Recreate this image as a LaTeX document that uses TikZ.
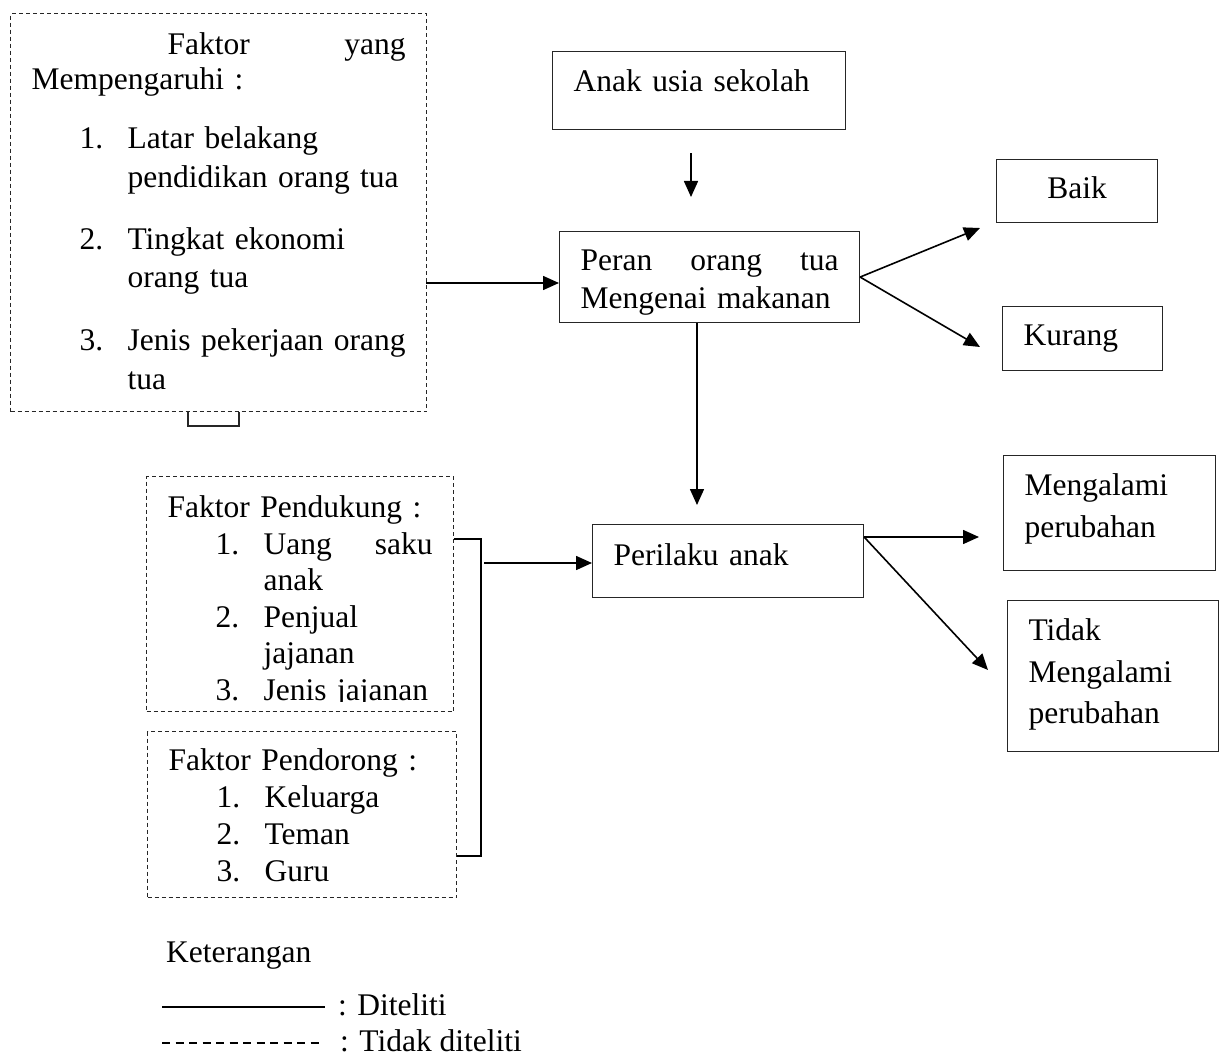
\documentclass[tikz,border=0pt]{standalone}
\usepackage{fontspec}
\setmainfont{Liberation Serif}
\usetikzlibrary{arrows.meta}
\newcommand{\itemno}[1]{\hspace*{48pt}\makebox[48pt][l]{#1}}
\newcommand{\itemcont}{\hspace*{96pt}}

\begin{document}
\begin{tikzpicture}[x=1pt, y=-1pt, >={Triangle[length=16pt, width=14pt]},
  font=\fontsize{31.5}{38}\selectfont,
  box/.style={draw=black!85, line width=1.1pt, anchor=north west, inner xsep=21pt, inner ysep=0pt, align=left},
  dbox/.style={box, dash pattern=on 4pt off 3pt},
  arr/.style={->, line width=1.6pt},
  lbl/.style={anchor=base west, inner sep=0pt}]
  \useasboundingbox (0,0) rectangle (1224,1054);

  % Faktor yang mempengaruhi
  \node[dbox, text width=374pt, text height=41pt, text depth=357pt,
        font=\fontsize{31.5}{38.5}\selectfont] (faktor) at (10,13) {%
    \hspace*{136pt}Faktor\hfill yang\\[-3.5pt]
    Mempengaruhi :\\[20.5pt]
    \itemno{1.}Latar belakang\\
    \itemcont pendidikan orang tua\\[23.5pt]
    \itemno{2.}Tingkat ekonomi\\
    \itemcont orang tua\\[24.5pt]
    \itemno{3.}\mbox{Jenis pekerjaan orang}\\
    \itemcont tua};
  \draw[line width=1.1pt, black!85] (188,412) -- (188,426) -- (239,426) -- (239,412);

  % Kotak utama
  \node[box, text width=251pt, text height=40pt, text depth=38pt] (anak) at (552,51) {Anak usia sekolah};
  \node[box, text width=258pt, text height=39pt, text depth=52pt] (peran) at (559,231) {%
    Peran\hfill orang\hfill tua\\
    Mengenai makanan};
  \node[box, text width=229pt, text height=41pt, text depth=32pt] (perilaku) at (592,524) {Perilaku anak};

  % Hasil
  \node[box, align=center, text width=119pt, text height=39pt, text depth=24pt] (baik) at (996,159) {Baik};
  \node[box, text width=118pt, text height=39pt, text depth=25pt] (kurang) at (1002,306) {Kurang};
  \node[box, text width=170pt, text height=40pt, text depth=75pt,
        font=\fontsize{31.5}{42}\selectfont] (mengalami) at (1003,455) {Mengalami\\perubahan};
  \node[box, text width=169pt, text height=40pt, text depth=111pt,
        font=\fontsize{31.5}{41.5}\selectfont] (tidak) at (1007,600) {Tidak\\Mengalami\\perubahan};

  % Faktor pendukung dan pendorong
  \node[dbox, text width=265pt, text height=41pt, text depth=194pt,
        font=\fontsize{31.5}{36.6}\selectfont] (pendukung) at (146,476) {%
    Faktor Pendukung :\\
    \itemno{1.}Uang\hfill saku\\
    \itemcont anak\\
    \itemno{2.}Penjual\\
    \itemcont jajanan\\
    \itemno{3.}Jenis jajanan};
  \fill[white] (149,702) rectangle (450,709.8);
  \node[dbox, text width=267pt, text height=39pt, text depth=127pt,
        font=\fontsize{31.5}{37}\selectfont] (pendorong) at (147,731) {%
    Faktor Pendorong :\\
    \itemno{1.}Keluarga\\
    \itemno{2.}Teman\\
    \itemno{3.}Guru};

  % Panah
  \coordinate (fk) at (426,283);
  \coordinate (ax) at (691,0);
  \coordinate (px) at (697,0);
  \coordinate (tb) at (980,228);
  \coordinate (tk) at (980,347);
  \coordinate (bt) at (481,539);
  \coordinate (bb) at (481,856);
  \coordinate (bx) at (484,563);
  \coordinate (pr) at (0,537);
  \coordinate (tm) at (979,537);
  \coordinate (tt) at (988,670);

  \draw[arr] (fk) -- (fk -| peran.west);
  \draw[arr, shorten <=23pt, shorten >=34pt] (anak.south -| ax) -- (peran.north -| ax);
  \draw[arr] (peran.east) -- (tb);
  \draw[arr] (peran.east) -- (tk);
  \draw[arr, shorten >=19pt] (peran.south -| px) -- (perilaku.north -| px);
  \draw[line width=1.6pt] (pendukung.east |- bt) -- (bt) -- (bb) -- (pendorong.east |- bb);
  \draw[arr] (bx) -- (bx -| perilaku.west);
  \draw[arr] (perilaku.east |- pr) -- (tm);
  \draw[arr] (perilaku.east |- pr) -- (tt);

  % Keterangan
  \node[lbl] (ket) at (166,962) {Keterangan};
  \node[lbl] (diteliti) at (338,1015) {: Diteliti};
  \node[lbl] (tdkditeliti) at (340,1051) {: Tidak diteliti};
  \draw[line width=1.3pt] (162,1007) -- (325,1007);
  \draw[line width=1.3pt, dash pattern=on 8pt off 5.5pt] (162,1043) -- (323,1043);
\end{tikzpicture}
\end{document}
